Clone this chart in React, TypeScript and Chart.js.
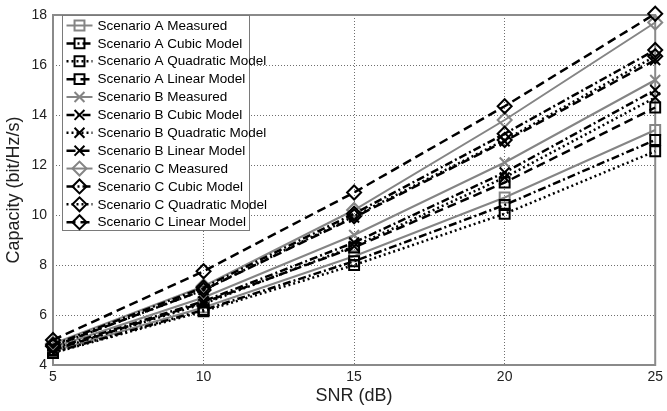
import React, { useEffect, useRef } from 'react';
import { Chart, registerables } from 'chart.js';

Chart.register(...registerables);

// ---- data ----
const snrDb = [5, 10, 15, 20, 25];
const yTickValues = [4, 6, 8, 10, 12, 14, 16, 18];

const aMeasured = [4.55, 6.3, 8.35, 10.7, 13.4];
const aCubic = [4.5, 6.2, 8.15, 10.4, 13.0];
const aQuadratic = [4.48, 6.15, 8.0, 10.05, 12.55];
const aLinear = [4.6, 6.5, 8.7, 11.3, 14.3];

const bMeasured = [4.7, 6.7, 9.2, 12.1, 15.4];
const bCubic = [4.65, 6.55, 8.9, 11.7, 15.0];
const bQuadratic = [4.6, 6.45, 8.75, 11.5, 14.7];
const bLinear = [4.75, 7.0, 9.9, 12.95, 16.2];

const cMeasured = [4.85, 7.15, 10.2, 13.8, 17.7];
const cCubic = [4.8, 7.1, 10.05, 13.25, 16.6];
const cQuadratic = [4.75, 7.0, 9.95, 13.0, 16.35];
const cLinear = [5.0, 7.75, 10.9, 14.35, 18.05];

const seriesLabels = [
  'Scenario A Measured', 'Scenario A Cubic Model', 'Scenario A Quadratic Model', 'Scenario A Linear Model',
  'Scenario B Measured', 'Scenario B Cubic Model', 'Scenario B Quadratic Model', 'Scenario B Linear Model',
  'Scenario C Measured', 'Scenario C Cubic Model', 'Scenario C Quadratic Model', 'Scenario C Linear Model',
];
const seriesData = [
  aMeasured, aCubic, aQuadratic, aLinear,
  bMeasured, bCubic, bQuadratic, bLinear,
  cMeasured, cCubic, cQuadratic, cLinear,
];
const seriesKinds = ['measured', 'cubic', 'quadratic', 'linear'];
const seriesMarkers = ['rect', 'crossRot', 'rectRot'];

// ---- styles ----
const GRAY = '#8a8a8a';
const styleFor: Record<string, { color: string; dash: number[]; width: number }> = {
  measured: { color: '#858585', dash: [], width: 2 },
  cubic: { color: '#000000', dash: [8, 3, 2, 3], width: 2.5 },
  quadratic: { color: '#000000', dash: [2, 3], width: 2.5 },
  linear: { color: '#000000', dash: [9, 5], width: 2.5 },
};
const FONT = '"Liberation Sans", Arial, Helvetica, sans-serif';
const MR = 7;

function drawMarker(ctx: CanvasRenderingContext2D, style: string, x: number, y: number, r: number) {
  ctx.beginPath();
  if (style === 'rect') {
    const s = Math.SQRT1_2 * r;
    ctx.rect(x - s, y - s, 2 * s, 2 * s);
  } else if (style === 'rectRot') {
    ctx.moveTo(x - r, y);
    ctx.lineTo(x, y - r);
    ctx.lineTo(x + r, y);
    ctx.lineTo(x, y + r);
    ctx.closePath();
  } else {
    const s = Math.SQRT1_2 * r;
    ctx.moveTo(x - s, y - s);
    ctx.lineTo(x + s, y + s);
    ctx.moveTo(x + s, y - s);
    ctx.lineTo(x - s, y + s);
  }
  ctx.stroke();
}

const frameAndLegend = {
  id: 'frameAndLegend',
  beforeDatasetsDraw(chart: any) {
    const { ctx, chartArea: a } = chart;
    ctx.save();
    ctx.strokeStyle = GRAY;
    ctx.lineWidth = 2;
    ctx.setLineDash([]);
    ctx.strokeRect(a.left, a.top, a.right - a.left, a.bottom - a.top);
    ctx.restore();
  },
  afterDatasetsDraw(chart: any) {
    const { ctx, chartArea: a } = chart;
    const bx = a.left + 9.5;
    const by = a.top + 0.5;
    const bw = 187;
    const bh = 215;
    const rowH = 17.88;
    ctx.save();
    ctx.fillStyle = '#ffffff';
    ctx.fillRect(bx, by, bw, bh);
    ctx.strokeStyle = '#7a7a7a';
    ctx.lineWidth = 1;
    ctx.setLineDash([]);
    ctx.strokeRect(bx, by, bw, bh);
    chart.data.datasets.forEach((ds: any, i: number) => {
      const cy = by + 10 + i * rowH;
      const kind = seriesKinds[i % 4];
      const st = styleFor[kind];
      ctx.strokeStyle = st.color;
      ctx.lineWidth = st.width;
      ctx.setLineDash(st.dash);
      ctx.beginPath();
      ctx.moveTo(bx + 4, cy);
      ctx.lineTo(bx + 30, cy);
      ctx.stroke();
      ctx.setLineDash([]);
      ctx.lineWidth = 2;
      drawMarker(ctx, ds.pointStyle, bx + 17, cy, MR);
      ctx.fillStyle = '#000000';
      ctx.font = `13.5px ${FONT}`;
      ctx.textBaseline = 'middle';
      ctx.textAlign = 'left';
      ctx.fillText(ds.label, bx + 35, cy + 0.5);
    });
    ctx.restore();
  },
};

export default function App() {
  const ref = useRef<HTMLCanvasElement | null>(null);

  useEffect(() => {
    if (!ref.current) return;
    const datasets = seriesData.map((vals, i) => {
      const kind = seriesKinds[i % 4];
      const st = styleFor[kind];
      const marker = seriesMarkers[Math.floor(i / 4)];
      return {
        label: seriesLabels[i],
        data: vals.map((v, j) => ({ x: snrDb[j], y: v })),
        borderColor: st.color,
        borderWidth: st.width,
        borderDash: st.dash,
        backgroundColor: 'rgba(0,0,0,0)',
        pointStyle: marker,
        pointRadius: MR,
        pointBorderWidth: 2,
        pointBorderColor: st.color,
        pointBackgroundColor: 'rgba(0,0,0,0)',
        fill: false,
        tension: 0,
        clip: false,
        order: 20 - i,
      };
    });

    const chart = new Chart(ref.current, {
      type: 'line',
      data: { datasets },
      plugins: [frameAndLegend],
      options: {
        responsive: false,
        animation: false,
        devicePixelRatio: 1,
        layout: { padding: { top: 15, right: 10, left: 0, bottom: 0 } },
        plugins: {
          legend: { display: false },
          tooltip: { enabled: false },
        },
        scales: {
          x: {
            type: 'linear',
            min: 5,
            max: 25,
            afterBuildTicks: (s: any) => { s.ticks = snrDb.map((v) => ({ value: v })); },
            afterFit: (s: any) => { s.height = 46; },
            ticks: { color: '#222', font: { family: FONT, size: 14 }, padding: 4, maxRotation: 0 },
            grid: { color: '#6e6e6e', lineWidth: 1, drawTicks: false },
            border: { display: false, dash: [1, 2] },
            title: {
              display: true,
              text: 'SNR (dB)',
              color: '#222',
              font: { family: FONT, size: 18 },
              padding: { top: 0, bottom: 4 },
            },
          },
          y: {
            type: 'linear',
            min: 4,
            max: 18,
            afterBuildTicks: (s: any) => { s.ticks = yTickValues.map((v) => ({ value: v })); },
            afterFit: (s: any) => { s.width = 53; },
            ticks: { color: '#222', font: { family: FONT, size: 14 }, padding: 6 },
            grid: { color: '#6e6e6e', lineWidth: 1, drawTicks: false },
            border: { display: false, dash: [1, 2] },
            title: {
              display: true,
              text: 'Capacity (bit/Hz/s)',
              color: '#222',
              font: { family: FONT, size: 18 },
              padding: { top: 3, bottom: 0 },
            },
          },
        },
      },
    } as any);
    return () => chart.destroy();
  }, []);

  return (
    <div style={{ position: 'fixed', left: 0, top: 0, width: 667, height: 411, background: '#fff' }}>
      <canvas ref={ref} width={667} height={411} style={{ width: 667, height: 411 }} />
    </div>
  );
}
